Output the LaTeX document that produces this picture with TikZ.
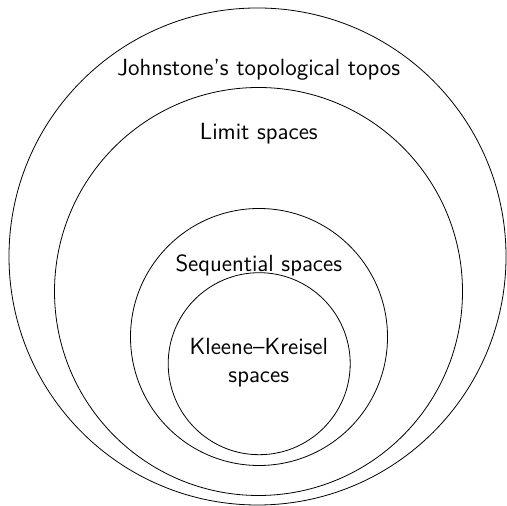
\documentclass[tikz,border=0pt]{standalone}
\usepackage{tikz}
\usetikzlibrary{positioning}

\begin{document}
\begin{tikzpicture}[
        x=0.5pt,y=0.5pt,
        ring/.style={draw=black,line width=0.4pt,circle,inner sep=0pt},
        tag/.style={anchor=base,align=center,inner sep=0pt,font=\fontsize{11.7}{14.2}\selectfont\sffamily}
      ]
        \useasboundingbox (0,0) rectangle (506,506);
        \node[ring,minimum size=497pt/2] (topos) at (257.5,249.5) {};
        \node[ring,minimum size=408pt/2] (limit) at (258.5,214.5) {};
        \node[ring,minimum size=257pt/2] (seq) at (259,169) {};
        \node[ring,minimum size=182pt/2] (kk) at (259.2,142.3) {};
        \node[tag] (toposlabel) at (258.8,430) {Johnstone's topological topos};
        \node[tag] (limitlabel) at (258.8,366.7) {Limit spaces};
        \node[tag] (seqlabel) at (258.8,234.3) {Sequential spaces};
        \node[tag] (kklabel) at (258.8,123.3) {Kleene--Kreisel\\spaces};
      \end{tikzpicture}
\end{document}
